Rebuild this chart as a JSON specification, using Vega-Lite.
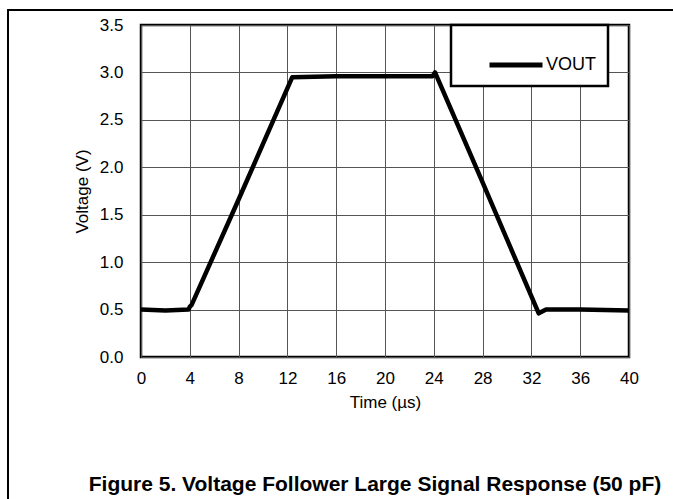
{
  "$schema": "https://vega.github.io/schema/vega-lite/v6.json",
  "autosize": "none",
  "width": 488,
  "height": 332,
  "padding": {"left": 141, "top": 25, "right": 44, "bottom": 142},
  "background": "white",
  "config": {
    "font": "Liberation Sans",
    "view": {"stroke": "black", "strokeWidth": 2.5},
    "axis": {
      "labelFont": "Liberation Sans", "labelFontSize": 17, "labelColor": "black",
      "titleFont": "Liberation Sans", "titleFontSize": 17, "titleFontWeight": "normal", "titleColor": "black",
      "ticks": false, "domain": false,
      "gridColor": "#555", "gridWidth": 1, "gridOpacity": 1
    },
    "legend": {"strokeWidth": 2.5}
  },
  "title": {
    "text": "Figure 5. Voltage Follower Large Signal Response (50 pF)",
    "orient": "bottom", "anchor": "middle", "frame": "group", "offset": -26, "dx": -10,
    "font": "Liberation Sans", "fontSize": 21, "fontWeight": "bold", "color": "black"
  },
  "data": {"values": [
    {"t": 0, "v": 0.5, "series": "VOUT"},
    {"t": 2, "v": 0.49, "series": "VOUT"},
    {"t": 3.9, "v": 0.5, "series": "VOUT"},
    {"t": 4.0, "v": 0.53, "series": "VOUT"},
    {"t": 4.15, "v": 0.55, "series": "VOUT"},
    {"t": 8, "v": 1.66, "series": "VOUT"},
    {"t": 12.4, "v": 2.95, "series": "VOUT"},
    {"t": 16, "v": 2.96, "series": "VOUT"},
    {"t": 20, "v": 2.96, "series": "VOUT"},
    {"t": 23.9, "v": 2.96, "series": "VOUT"},
    {"t": 24.1, "v": 3.0, "series": "VOUT"},
    {"t": 28, "v": 1.84, "series": "VOUT"},
    {"t": 32.6, "v": 0.46, "series": "VOUT"},
    {"t": 33.2, "v": 0.5, "series": "VOUT"},
    {"t": 36, "v": 0.5, "series": "VOUT"},
    {"t": 40, "v": 0.49, "series": "VOUT"}
  ]},
  "layer": [
    {
      "mark": {"type": "line", "strokeWidth": 4.5, "strokeJoin": "round"},
      "encoding": {
        "x": {"field": "t", "type": "quantitative", "title": "Time (µs)",
          "scale": {"domain": [0, 40], "nice": false, "zero": false},
          "axis": {"values": [0, 4, 8, 12, 16, 20, 24, 28, 32, 36, 40], "labelPadding": 13, "titlePadding": 8, "labelFlush": false}},
        "y": {"field": "v", "type": "quantitative", "title": "Voltage (V)",
          "scale": {"domain": [0, 3.5], "nice": false, "zero": false},
          "axis": {"values": [0, 0.5, 1, 1.5, 2, 2.5, 3, 3.5], "format": ".1f", "labelPadding": 18, "titlePadding": 8, "labelFlush": false}},
        "color": {"field": "series", "type": "nominal",
          "scale": {"range": ["black"]},
          "legend": {"title": null, "orient": "none", "legendX": 310, "legendY": 0,
            "symbolType": "stroke", "symbolSize": 2809, "symbolStrokeWidth": 5,
            "symbolOffset": 25,
            "labelFont": "Liberation Sans", "labelFontSize": 18, "labelColor": "black",
            "labelOffset": 1, "padding": 11,
            "fillColor": "white", "strokeColor": "black"}}
      }
    },
    {
      "mark": {"type": "rule", "color": "black", "strokeWidth": 1.5},
      "encoding": {"x": {"datum": -10.9}, "y": {"datum": 3.66}, "y2": {"datum": -1.5}}
    },
    {
      "mark": {"type": "rule", "color": "black", "strokeWidth": 1.5},
      "encoding": {"x": {"datum": -10.9}, "x2": {"datum": 44.5}, "y": {"datum": 3.66}, "y2": {"datum": 3.66}}
    }
  ]
}
